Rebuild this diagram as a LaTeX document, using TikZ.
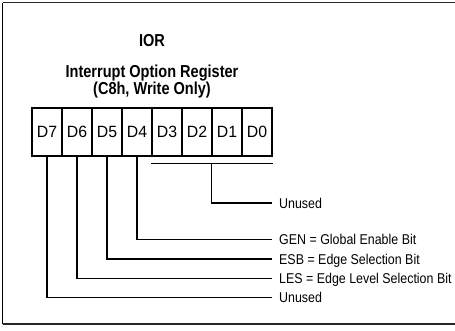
\documentclass[tikz,border=0pt]{standalone}
\usepackage{fontspec}
\setmainfont{Liberation Sans}
\newfontfamily\labfont[FakeStretch=0.875]{Liberation Sans}
\newfontfamily\cellfont[FakeStretch=0.97]{Liberation Sans}
\newfontfamily\ttlfont[FakeStretch=0.84]{Liberation Sans}
\begin{document}
\begin{tikzpicture}[x=1pt,y=-1pt,
  cell/.style={draw, line width=1.1pt, minimum width=30pt, minimum height=48pt, inner sep=0pt,
    font=\cellfont\fontsize{16.3}{18}\selectfont},
  lbl/.style={anchor=west, inner sep=0pt, text height=10.2pt, text depth=0pt,
    font=\labfont\fontsize{14.2}{16}\selectfont},
  ttl/.style={anchor=base, inner sep=0pt, font=\ttlfont\bfseries\fontsize{17.3}{19}\selectfont},
  wire/.style={draw, line width=1.1pt},
  frame/.style={draw, line width=1.6pt, black!85}]
\useasboundingbox (0,0) rectangle (455,330);
% frame
\draw[frame] (455,2.5) -- (2.5,2.5);
\draw[line width=1.1pt] (2.5,2.5) -- (2.5,324);
\draw[frame] (2.5,324) -- (455,324);
% titles
\node[ttl] (ior) at (152,46) {IOR};
\node[ttl] (name) at (152,77) {Interrupt Option Register};
\node[ttl] (addr) at (152,94) {(C8h, Write Only)};
% register cells
\node[cell] (d7) at (47,132) {D7};
\node[cell] (d6) at (77,132) {D6};
\node[cell] (d5) at (107,132) {D5};
\node[cell] (d4) at (137,132) {D4};
\node[cell] (d3) at (167,132) {D3};
\node[cell] (d2) at (197,132) {D2};
\node[cell] (d1) at (227,132) {D1};
\node[cell] (d0) at (257,132) {D0};
% labels
\node[lbl] (u0) at (279,203) {Unused};
\node[lbl] (gen) at (279,239.3) {GEN = Global Enable Bit};
\node[lbl] (esb) at (279,259) {ESB = Edge Selection Bit};
\node[lbl] (les) at (279,278.3) {LES = Edge Level Selection Bit};
\node[lbl] (u7) at (279,297.3) {Unused};
% connectors
\draw[wire] ([yshift=-7pt]d3.south west) -- ([yshift=-7pt]d0.south east);
\draw[wire] ([yshift=-7pt]d1.south west) |- ([xshift=-7pt]u0.west);
\draw[wire] (d4.south) |- ([xshift=-7pt]gen.west);
\draw[wire] (d5.south) |- ([xshift=-7pt]esb.west);
\draw[wire] (d6.south) |- ([xshift=-7pt]les.west);
\draw[wire] (d7.south) |- ([xshift=-7pt]u7.west);
\end{tikzpicture}
\end{document}
